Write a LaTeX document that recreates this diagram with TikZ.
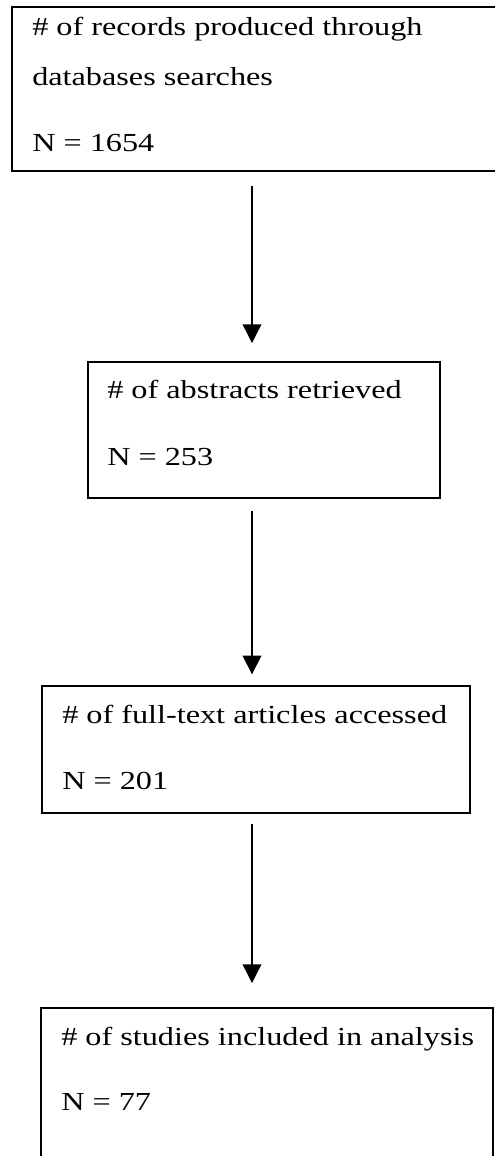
\documentclass[tikz,border=0pt]{standalone}
\usepackage{fontspec}
\setmainfont{Liberation Serif}[FakeStretch=1.24]
\usetikzlibrary{arrows.meta}
\tikzset{
  stage/.style={draw, line width=1.2pt, anchor=north west, inner sep=0pt},
  entry/.style={anchor=base west, inner sep=0pt, font=\fontsize{19.5}{23}\selectfont},
  flow/.style={-{Triangle[length=14pt, width=14pt]}, line width=1pt},
}

\begin{document}
\begin{tikzpicture}[x=0.75pt, y=-0.75pt]
  \useasboundingbox (0,0) rectangle (494,1156);

  % boxes of the flow
  \node[stage, minimum width=381.75pt, minimum height=123pt] (rec) at (11,6) {};
  \node[stage, minimum width=264pt, minimum height=102pt] (abs) at (87,361) {};
  \node[stage, minimum width=321pt, minimum height=95.25pt] (full) at (41,685) {};
  \node[stage, minimum width=339pt, minimum height=130pt] (incl) at (40,1007) {};

  % texts
  \node[entry] (rec1) at (32,36) {\# of records produced through};
  \node[entry] (rec2) at (32,85) {databases searches};
  \node[entry] (recn) at (32,151) {N = 1654};
  \node[entry] (abs1) at (107,398) {\# of abstracts retrieved};
  \node[entry] (absn) at (107,465) {N = 253};
  \node[entry] (full1) at (62,723) {\# of full-text articles accessed};
  \node[entry] (fulln) at (62,789) {N = 201};
  \node[entry] (incl1) at (61,1045) {\# of studies included in analysis};
  \node[entry] (incln) at (61,1110) {N = 77};

  % arrows
  \coordinate (ax) at (252,0);
  \draw[flow, shorten <=11pt, shorten >=13.5pt] (rec.south -| ax) -- (abs.north -| ax);
  \draw[flow, shorten <=9pt, shorten >=8pt] (abs.south -| ax) -- (full.north -| ax);
  \draw[flow, shorten <=8pt, shorten >=18pt] (full.south -| ax) -- (incl.north -| ax);
\end{tikzpicture}
\end{document}
